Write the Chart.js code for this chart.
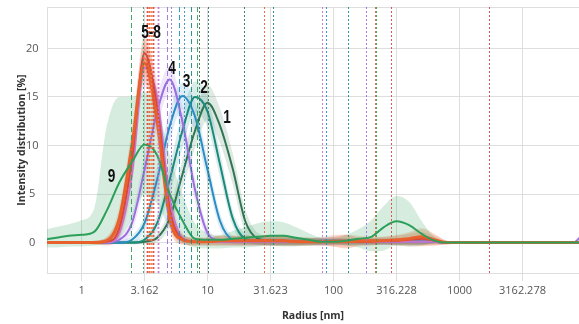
<!DOCTYPE html>
<html>
<head>
<meta charset="utf-8">
<script src="https://cdn.jsdelivr.net/npm/chart.js@4.4.0/dist/chart.umd.min.js"></script>
<style>
  html, body { margin: 0; padding: 0; background: #fff; }
  #wrap { width: 579px; height: 324px; }
</style>
</head>
<body>
<div id="wrap"><canvas id="chart" width="579" height="324"></canvas></div>
<script>
// radius grid [nm], shared by all series
const radius = [0.501, 0.631, 0.794, 1, 1.259, 1.585, 1.995, 2.512, 3.162, 3.981,
                5.012, 6.31, 7.943, 10, 12.59, 15.85, 19.95, 25.12, 31.62, 39.81,
                50.12, 63.1, 79.43, 100, 125.9, 158.5, 199.5, 251.2, 316.2, 398.1,
                501.2, 631, 794.3, 1000, 3162, 7943, 10000];

// intensity distribution [%] (mean) and spread for each measurement
const s1 = [0, 0, 0, 0, 0, 0, 0, 0, 0.1, 0.5,  2.5, 7, 11.5, 14.4, 12, 7.6, 2.2, 0.4, 0.2, 0.2,  0.1, 0.1, 0.1, 0.1, 0.1, 0.1, 0.1, 0.1, 0.1, 0.1,  0.1, 0.1, 0, 0, 0, 0, 0];
const s1Sd = [0.1, 0.1, 0.1, 0.1, 0.1, 0.1, 0.1, 0.1, 0.2, 0.4,  0.9, 1.5, 1.8, 1.8, 1.8, 1.6, 1.2, 0.6, 0.5, 0.6,  0.5, 0.4, 0.3, 0.3, 0.3, 0.3, 0.3, 0.3, 0.3, 0.3,  0.3, 0.2, 0.1, 0.1, 0, 0, 0];

const s2 = [0, 0, 0, 0, 0, 0, 0, 0, 0.3, 2,  6.5, 11.5, 15, 13.5, 8, 2.5, 0.4, 0.2, 0.1, 0.1,  0.1, 0.1, 0.1, 0.1, 0.1, 0.1, 0.1, 0.1, 0.1, 0.1,  0.1, 0.1, 0, 0, 0, 0, 0];
const s2Sd = [0.1, 0.1, 0.1, 0.1, 0.1, 0.1, 0.1, 0.2, 0.4, 0.8,  1.4, 1.8, 1.6, 1.6, 1.3, 0.8, 0.5, 0.4, 0.4, 0.4,  0.4, 0.3, 0.3, 0.3, 0.3, 0.3, 0.3, 0.3, 0.3, 0.3,  0.3, 0.2, 0.1, 0.1, 0, 0, 0];

const s3 = [0, 0, 0, 0, 0, 0, 0, 0.3, 2, 6.5,  12, 15.1, 13, 7.5, 2.2, 0.3, 0.1, 0.1, 0.1, 0.1,  0.1, 0.1, 0.2, 0.2, 0.1, 0.1, 0.1, 0.1, 0.1, 0.1,  0.1, 0.1, 0, 0, 0, 0, 0];
const s3Sd = [0.1, 0.1, 0.1, 0.1, 0.1, 0.1, 0.2, 0.4, 0.8, 1.4,  1.6, 1.4, 1.5, 1.2, 0.8, 0.4, 0.3, 0.3, 0.3, 0.3,  0.3, 0.3, 0.4, 0.4, 0.3, 0.3, 0.3, 0.3, 0.3, 0.3,  0.3, 0.2, 0.1, 0.1, 0, 0, 0];

const s4 = [0, 0, 0, 0, 0, 0, 0.3, 2, 7.5, 13.5,  16.8, 12.5, 5.5, 1, 0.2, 0.1, 0.1, 0.1, 0.1, 0.1,  0.1, 0.1, 0.1, 0.1, 0.1, 0.1, 0.1, 0.1, 0.1, 0.1,  0.1, 0.1, 0, 0, 0, 0, 1.2];
const s4Sd = [0.1, 0.1, 0.1, 0.1, 0.1, 0.2, 0.4, 0.9, 1.5, 1.6,  1.4, 1.5, 1.2, 0.6, 0.3, 0.3, 0.3, 0.3, 0.3, 0.3,  0.3, 0.3, 0.3, 0.3, 0.3, 0.3, 0.3, 0.3, 0.3, 0.3,  0.3, 0.2, 0.1, 0.1, 0, 0.1, 0.6];

const s5 = [0, 0, 0, 0, 0, 0.2, 2.5, 10, 18.5, 12.5,  2.5, 0.3, 0.1, 0.1, 0.2, 0.2, 0.2, 0.2, 0.2, 0.2,  0.1, 0.1, 0.1, 0.1, 0.1, 0.2, 0.2, 0.2, 0.3, 0.4,  0.6, 0.3, 0, 0, 0, 0, 0];
const s5Sd = [0.1, 0.1, 0.1, 0.1, 0.2, 0.4, 1.2, 1.8, 2, 1.8,  1.2, 0.5, 0.4, 0.4, 0.5, 0.5, 0.5, 0.5, 0.5, 0.5,  0.4, 0.4, 0.4, 0.5, 0.7, 0.5, 0.4, 0.4, 0.5, 0.7,  0.9, 0.6, 0.2, 0.1, 0, 0, 0];

const s6 = [0, 0, 0, 0, 0, 0.1, 1.5, 8.5, 19.5, 14,  3.5, 0.4, 0.1, 0.1, 0.2, 0.2, 0.2, 0.2, 0.2, 0.2,  0.1, 0.1, 0.1, 0.2, 0.2, 0.1, 0.1, 0.2, 0.2, 0.3,  0.4, 0.2, 0, 0, 0, 0, 0];
const s6Sd = [0.1, 0.1, 0.1, 0.1, 0.2, 0.4, 1, 1.8, 2, 1.8,  1.3, 0.5, 0.4, 0.4, 0.5, 0.5, 0.5, 0.5, 0.5, 0.5,  0.4, 0.4, 0.4, 0.6, 0.6, 0.4, 0.4, 0.4, 0.5, 0.6,  0.7, 0.5, 0.2, 0.1, 0, 0, 0];

const s7 = [0, 0, 0, 0, 0, 0.2, 2, 9, 19, 13,  3, 0.3, 0.1, 0.1, 0.2, 0.2, 0.2, 0.2, 0.2, 0.2,  0.1, 0.1, 0.1, 0.1, 0.1, 0.1, 0.1, 0.2, 0.2, 0.3,  0.5, 0.3, 0, 0, 0, 0, 0];
const s7Sd = [0.1, 0.1, 0.1, 0.1, 0.2, 0.4, 1.2, 1.8, 2, 1.8,  1.2, 0.5, 0.4, 0.4, 0.5, 0.5, 0.5, 0.5, 0.5, 0.5,  0.4, 0.4, 0.4, 0.5, 0.7, 0.5, 0.4, 0.4, 0.5, 0.7,  0.9, 0.6, 0.2, 0.1, 0, 0, 0];

const s8 = [0, 0, 0, 0, 0, 0, 1, 7, 18, 15,  4.5, 0.5, 0.1, 0.1, 0.1, 0.1, 0.1, 0.1, 0.1, 0.1,  0.1, 0.1, 0.1, 0.1, 0.1, 0.1, 0.1, 0.1, 0.1, 0.1,  0.1, 0.1, 0, 0, 0, 0, 0];
const s8Sd = [0.1, 0.1, 0.1, 0.1, 0.1, 0.2, 0.6, 1.5, 2, 1.8,  1.4, 0.5, 0.3, 0.3, 0.3, 0.3, 0.3, 0.3, 0.3, 0.3,  0.3, 0.3, 0.3, 0.3, 0.3, 0.3, 0.3, 0.3, 0.3, 0.3,  0.3, 0.2, 0.1, 0.1, 0, 0, 0];

const s9 = [0.3, 0.5, 0.7, 0.8, 1.1, 3.3, 6.2, 8.3, 10.1, 9,  5, 2.3, 0.4, 0.3, 0.3, 0.4, 0.5, 0.6, 0.7, 0.7,  0.5, 0.3, 0.1, 0.1, 0.2, 0.4, 0.6, 1.6, 2.2, 1.8,  0.9, 0.2, 0, 0, 0, 0, 0];
const s9Hi = [1.3, 1.6, 1.9, 2.3, 3.5, 12, 15, 15, 15.5, 14,  9, 5, 2, 1, 0.8, 1.2, 1.6, 2, 2.2, 2.1,  1.6, 1, 0.5, 0.4, 0.8, 1.4, 2.3, 3.8, 4.8, 4.2,  2.2, 0.6, 0.1, 0, 0, 0, 0];
const s9Lo = [-0.5, -0.5, -0.4, -0.4, -0.3, -0.2, 0.5, 2.5, 5, 4,  1.5, 0, -0.5, -0.6, -0.6, -0.5, -0.5, -0.4, -0.3, -0.3,  -0.3, -0.3, -0.3, -0.2, -0.3, -0.5, -0.9, -0.8, -0.3, -0.4,  -0.3, -0.1, 0, 0, 0, 0, 0];

const seriesColors = ['#307552', '#1a8a7d', '#2b8cc4', '#9a6fde', '#e8612c', '#d9473b', '#ef7d46', '#c774c9', '#2ca05a'];

// marker lines: radius [nm], series number, style
const markRadius = [2.471, 3.077, 3.311, 3.434, 3.562, 3.694, 4.047, 4.771, 5.132, 5.939,
                    6.509, 7.396, 8.254, 8.561, 10.09, 19.49, 28.08, 33.1, 81, 87.2,
                    130.4, 181.1, 213.5, 217.5, 286, 1714];
const markSeries = [9, 9, 6, 5, 7, 6, 8, 4, 4, 3,
                    3, 2, 9, 1, 1, 1, 5, 2, 8, 3,
                    2, 4, 5, 9, 6, 6];
const markStyle = ['dash', 'dot', 'dot', 'dot', 'dot', 'dot', 'dot', 'dash', 'dot', 'dash',
                   'dot', 'dash', 'dash', 'dot', 'dot', 'dot', 'dot', 'dot', 'dot', 'dot',
                   'dot', 'dot', 'dot', 'dot', 'dot', 'dot'];

// peak labels
const labelText = ['1', '2', '3', '4', '5-8', '9'];
const labelRadius = [14.3, 9.38, 6.81, 5.23, 3.56, 1.73];
const labelValue = [12.9, 16.0, 16.6, 17.9, 21.6, 6.8];

// axes
const xTicks = [1, 3.162, 10, 31.623, 100, 316.228, 1000, 3162.278];
const xTickLabels = ['1', '3.162', '10', '31.623', '100', '316.228', '1000', '3162.278'];
const yTicks = [0, 5, 10, 15, 20];
const xMin = 0.532, xMax = 8880;
const yMin = -3.15, yMax = 24.27;

const gridColor = '#dedede';
const tickFont = { family: "'Open Sans', sans-serif", size: 11 };
const titleFont = { family: "'Open Sans', sans-serif", size: 10.5, weight: 'bold' };

function hexA(hex, a) {
    const n = parseInt(hex.slice(1), 16);
    return `rgba(${(n >> 16) & 255}, ${(n >> 8) & 255}, ${n & 255}, ${a})`;
}

const series = [
    { mean: s1, sd: s1Sd, c: 0, w: 2 },
    { mean: s2, sd: s2Sd, c: 1, w: 2 },
    { mean: s3, sd: s3Sd, c: 2, w: 2 },
    { mean: s4, sd: s4Sd, c: 3, w: 2 },
    { mean: s8, sd: s8Sd, c: 7, w: 2 },
    { mean: s7, sd: s7Sd, c: 6, w: 2 },
    { mean: s6, sd: s6Sd, c: 5, w: 2 },
    { mean: s5, sd: s5Sd, c: 4, w: 3 },
    { mean: s9, hi: s9Hi, lo: s9Lo, c: 8, w: 2 }
];

const pts = arr => radius.map((r, i) => ({ x: r, y: arr[i] }));

// bottom-to-top: bands first, then lines
const datasets = [];
series.forEach(s => {
    const hi = s.hi || s.mean.map((v, i) => v + s.sd[i]);
    const lo = s.lo || s.mean.map((v, i) => v - s.sd[i]);
    datasets.push({ data: pts(hi), borderWidth: 0, pointRadius: 0, fill: '+1',
                    backgroundColor: hexA(seriesColors[s.c], s.c === 8 ? 0.2 : 0.16), cubicInterpolationMode: 'monotone' });
    datasets.push({ data: pts(lo), borderWidth: 0, pointRadius: 0, fill: false, cubicInterpolationMode: 'monotone' });
});
series.forEach(s => {
    datasets.push({ data: pts(s.mean), borderColor: seriesColors[s.c], borderWidth: s.w,
                    pointRadius: 0, fill: false, cubicInterpolationMode: 'monotone' });
});
datasets.forEach((d, i) => { d.order = datasets.length - i; });

// top frame line + vertical marker lines
const markerPlugin = {
    id: 'markers',
    beforeDatasetsDraw(chart) {
        const { ctx, chartArea: a } = chart;
        ctx.save();
        ctx.strokeStyle = gridColor;
        ctx.lineWidth = 1;
        ctx.beginPath();
        ctx.moveTo(a.left, Math.round(a.top) + 0.5);
        ctx.lineTo(a.right, Math.round(a.top) + 0.5);
        ctx.stroke();
        ctx.restore();
    },
    afterDatasetsDraw(chart) {
        const { ctx, chartArea: a, scales: { x } } = chart;
        ctx.save();
        ctx.beginPath();
        ctx.rect(a.left, a.top, a.right - a.left, a.bottom - a.top);
        ctx.clip();
        markRadius.forEach((r, i) => {
            const px = Math.round(x.getPixelForValue(r)) + 0.5;
            const sIdx = markSeries[i] - 1;
            ctx.strokeStyle = seriesColors[sIdx];
            ctx.globalAlpha = 0.9;
            ctx.lineWidth = (sIdx >= 4 && sIdx <= 7 && r < 5) ? 1.8 : 1;
            ctx.setLineDash(markStyle[i] === 'dash' ? [5, 3] : [2, 2]);
            ctx.beginPath();
            ctx.moveTo(px, a.top);
            ctx.lineTo(px, a.bottom);
            ctx.stroke();
        });
        ctx.restore();
    }
};

// condensed peak numbers
const labelPlugin = {
    id: 'peakLabels',
    afterDraw(chart) {
        const { ctx, scales: { x, y } } = chart;
        ctx.save();
        ctx.font = 'bold 19px "Liberation Sans", sans-serif';
        ctx.fillStyle = '#111';
        ctx.textAlign = 'center';
        ctx.textBaseline = 'middle';
        labelText.forEach((t, i) => {
            ctx.save();
            ctx.translate(x.getPixelForValue(labelRadius[i]), y.getPixelForValue(labelValue[i]));
            ctx.scale(0.72, 1);
            ctx.fillText(t, 0, 0);
            ctx.restore();
        });
        ctx.restore();
    }
};

new Chart(document.getElementById('chart'), {
    type: 'line',
    data: { datasets },
    options: {
        responsive: false,
        animation: false,
        devicePixelRatio: 1,
        layout: { padding: { top: 7, right: 0, bottom: 2, left: 17 } },
        plugins: { legend: { display: false }, tooltip: { enabled: false } },
        scales: {
            x: {
                type: 'logarithmic',
                min: xMin,
                max: xMax,
                afterBuildTicks: ax => { ax.ticks = xTicks.map(v => ({ value: v })); },
                ticks: { callback: (v, i) => xTickLabels[i], autoSkip: false, maxRotation: 0,
                         font: tickFont, color: '#555', padding: 3 },
                grid: { color: gridColor, tickLength: 8 },
                border: { color: gridColor },
                title: { display: true, text: 'Radius [nm]', font: titleFont, color: '#333',
                         padding: { top: 9, bottom: 0 } }
            },
            y: {
                min: yMin,
                max: yMax,
                afterBuildTicks: ax => { ax.ticks = yTicks.concat([yMax]).map(v => ({ value: v })); },
                afterFit: ax => { ax.width = 30; ax.paddingTop = 0; ax.paddingBottom = 0; },
                ticks: { callback: v => (yTicks.includes(v) ? String(v) : null), font: tickFont,
                         color: '#555', padding: 8.5, crossAlign: 'center' },
                grid: { color: gridColor, drawTicks: false },
                border: { color: gridColor },
                title: { display: true, text: 'Intensity distribution [%]',
                         font: Object.assign({ lineHeight: 1 }, titleFont), color: '#333', padding: 0 }
            }
        }
    },
    plugins: [markerPlugin, labelPlugin]
});
</script>
</body>
</html>
